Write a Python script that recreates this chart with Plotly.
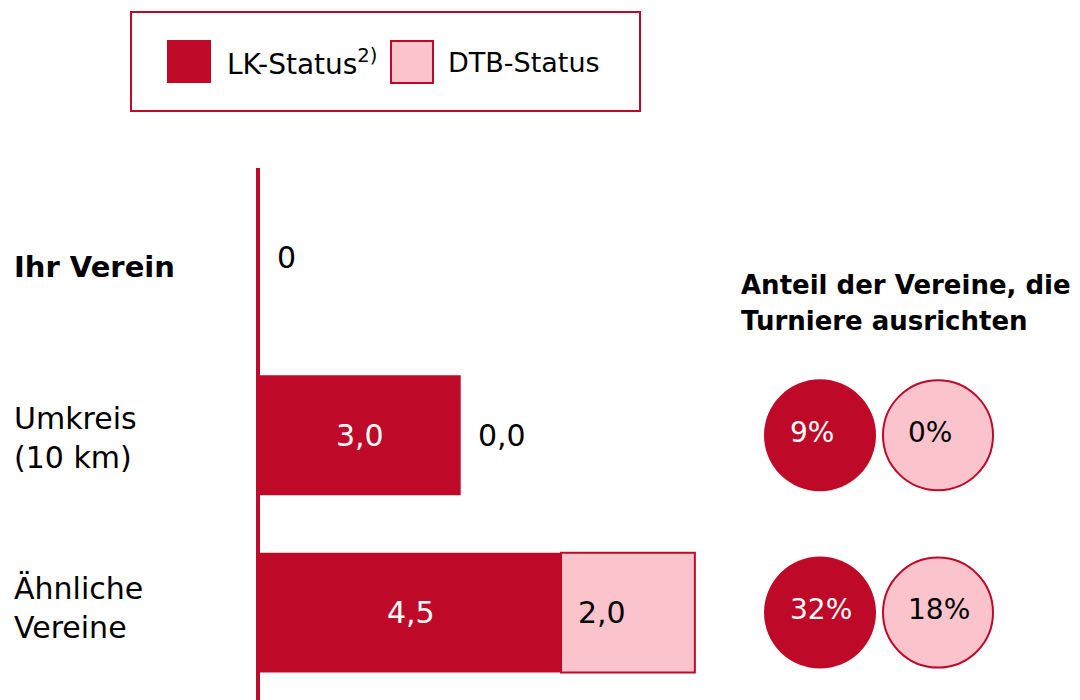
import plotly.graph_objects as go

# ---------------- data ----------------
row_ids = ["Ihr Verein", "Umkreis", "Ähnliche"]
row_labels = ["<b>Ihr Verein</b>", "Umkreis<br>(10 km)", "Ähnliche<br>Vereine"]
lk_values = [0.0, 3.0, 4.5]
dtb_values = [0.0, 0.0, 2.0]
lk_labels = ["", "3,0", "4,5"]
dtb_labels = ["0", "0,0", "2,0"]

share_rows = ["Umkreis", "Ähnliche"]
lk_share = [9, 32]
dtb_share = [0, 18]

series_names = ["LK-Status<sup>2)</sup>", "DTB-Status"]
panel_title = ["Anteil der Vereine, die", "Turniere ausrichten"]

# ---------------- style ----------------
DARK = "#BE0A28"
PINK = "#FBC4CD"
FONT = "DejaVu Sans"
W, H = 1080, 700
L, T = 260, 168
PW, PH = W - L, H - T
PX_PER_UNIT = 66.9


def px_x(p):
    return (p - L) / PW


def px_y(p):
    return (H - p) / PH


fig = go.Figure()

fig.add_trace(go.Bar(
    y=row_ids, x=lk_values, orientation="h", width=0.676,
    marker=dict(color=DARK, line=dict(width=0)), showlegend=False,
    hoverinfo="skip"))
fig.add_trace(go.Bar(
    y=row_ids, x=dtb_values, orientation="h", width=0.676, base=lk_values,
    marker=dict(color=PINK, line=dict(color=DARK,
                                      width=[2 if v > 0 else 0 for v in dtb_values])),
    showlegend=False, hoverinfo="skip"))

# circles on an overlay axis measured in pixels from the bar baseline
CIRCLE_LK_X = 560
CIRCLE_DTB_X = 678
fig.add_trace(go.Scatter(
    x=[CIRCLE_LK_X] * len(share_rows), y=share_rows, xaxis="x2", mode="markers",
    marker=dict(size=112, color=DARK, line=dict(width=0)), showlegend=False,
    hoverinfo="skip"))
fig.add_trace(go.Scatter(
    x=[CIRCLE_DTB_X] * len(share_rows), y=share_rows, xaxis="x2", mode="markers",
    marker=dict(size=110, color=PINK, line=dict(color=DARK, width=2)),
    showlegend=False, hoverinfo="skip"))

ann = []
# category labels
shifts = [-9, -3, 5]
for rid, lab, s in zip(row_ids, row_labels, shifts):
    ann.append(dict(xref="paper", yref="y", x=px_x(12), y=rid, text=lab,
                    xanchor="left", yanchor="middle", showarrow=False, align="left",
                    yshift=s, font=dict(family=FONT, size=30 if "<b>" not in lab else 29,
                                        color="black")))
# bar labels
for rid, v, t in zip(row_ids, lk_values, lk_labels):
    if t:
        ann.append(dict(xref="x", yref="y", x=v / 2, y=rid, text=t, showarrow=False,
                        xanchor="center", yanchor="middle",
                        font=dict(family=FONT, size=30, color="white")))
for rid, v, t in zip(row_ids, lk_values, dtb_labels):
    ann.append(dict(xref="x", yref="y", x=v, y=rid, text=t, showarrow=False,
                    xanchor="left", yanchor="middle", xshift=15,
                    font=dict(family=FONT, size=30, color="black")))
# circle labels
for rid, a, b in zip(share_rows, lk_share, dtb_share):
    ann.append(dict(xref="x2", yref="y", x=CIRCLE_LK_X, y=rid, text=f"{a}%",
                    showarrow=False, xanchor="left", yanchor="middle", xshift=-32,
                    yshift=3, font=dict(family=FONT, size=28, color="white")))
    ann.append(dict(xref="x2", yref="y", x=CIRCLE_DTB_X, y=rid, text=f"{b}%",
                    showarrow=False, xanchor="left", yanchor="middle", xshift=-32,
                    yshift=3, font=dict(family=FONT, size=28, color="black")))
# panel title
for i, line in enumerate(panel_title):
    ann.append(dict(xref="paper", yref="paper", x=px_x(739), y=px_y(285 + 36 * i),
                    text=f"<b>{line}</b>", showarrow=False, xanchor="left",
                    yanchor="middle", font=dict(family=FONT, size=26, color="black")))
# legend texts
ann.append(dict(xref="paper", yref="paper", x=px_x(225), y=px_y(63),
                text=series_names[0], showarrow=False, xanchor="left", yanchor="middle",
                font=dict(family=FONT, size=28, color="black")))
ann.append(dict(xref="paper", yref="paper", x=px_x(446), y=px_y(63),
                text=series_names[1], showarrow=False, xanchor="left", yanchor="middle",
                font=dict(family=FONT, size=27, color="black")))

shapes = [
    dict(type="rect", xref="paper", yref="paper", x0=px_x(131), x1=px_x(640),
         y0=px_y(111), y1=px_y(12), line=dict(color=DARK, width=2), fillcolor="white"),
    dict(type="rect", xref="paper", yref="paper", x0=px_x(167), x1=px_x(211),
         y0=px_y(83), y1=px_y(40), line=dict(width=0), fillcolor=DARK),
    dict(type="rect", xref="paper", yref="paper", x0=px_x(391), x1=px_x(433),
         y0=px_y(83), y1=px_y(41), line=dict(color=DARK, width=2), fillcolor=PINK),
]

fig.update_layout(
    width=W, height=H, margin=dict(l=L, r=0, t=T, b=0),
    paper_bgcolor="white", plot_bgcolor="white", barmode="overlay",
    xaxis=dict(range=[0, PW / PX_PER_UNIT], visible=False, fixedrange=True),
    xaxis2=dict(range=[0, PW], overlaying="x", visible=False, anchor="y"),
    yaxis=dict(type="category", categoryarray=row_ids, range=[2.493, -0.507],
               showline=True, linecolor=DARK, linewidth=4, showticklabels=False,
               ticks="", showgrid=False, zeroline=False),
    annotations=ann, shapes=shapes, showlegend=False,
)

fig.write_html("out.html", config={"displayModeBar": False},
               post_script="document.body.style.margin='0px';document.body.style.overflow='hidden';")
